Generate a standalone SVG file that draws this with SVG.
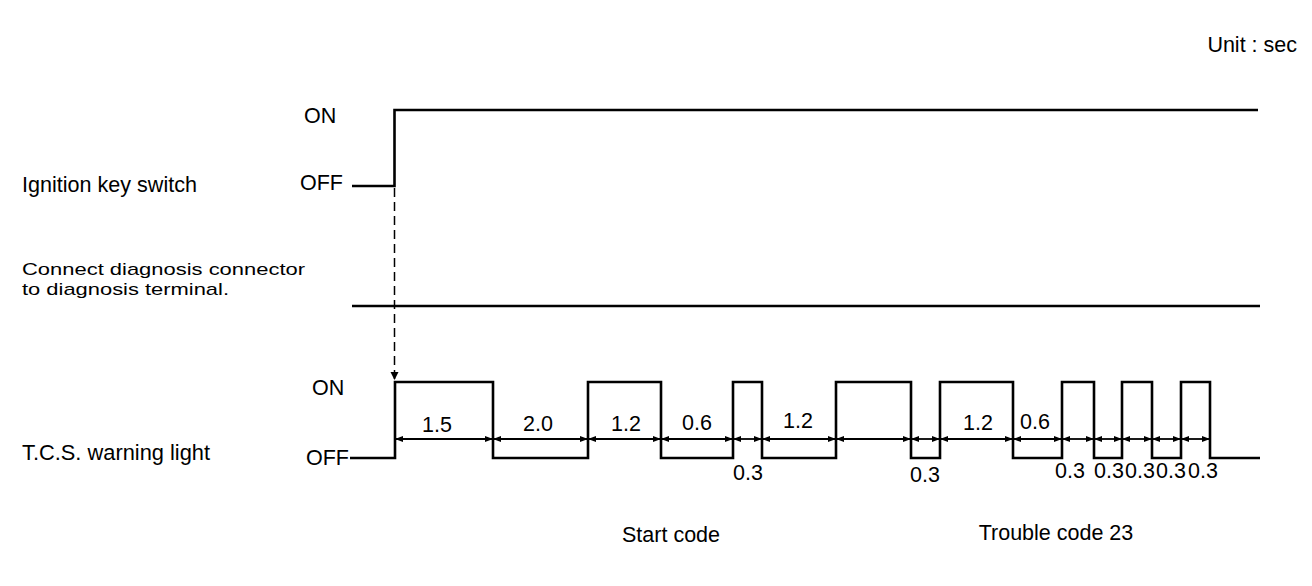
<svg xmlns="http://www.w3.org/2000/svg" width="1312" height="586" viewBox="0 0 1312 586">
<style>
text{font-family:"Liberation Sans",Arial,sans-serif;font-size:21.5px;fill:#000}
.c{text-anchor:middle}
.sm{font-size:17px}
.wave{fill:none;stroke:#000;stroke-width:2.6;stroke-linejoin:miter}
.dim{stroke:#000;stroke-width:1.8;marker-start:url(#ah);marker-end:url(#ah)}
.dash{fill:none;stroke:#000;stroke-width:1.5;stroke-dasharray:9 5}
</style>
<defs>
<marker id="ah" markerUnits="userSpaceOnUse" markerWidth="8" markerHeight="6" refX="8" refY="3" orient="auto-start-reverse">
<path d="M0,0 L8,3 L0,6 z" fill="#000"/>
</marker>
<marker id="down" markerUnits="userSpaceOnUse" markerWidth="8" markerHeight="10" refX="8" refY="4" orient="auto">
<path d="M0,0 L8,4 L0,8 z" fill="#000"/>
</marker>
</defs>
<rect width="1312" height="586" fill="#fff"/>
<text x="1297" y="52" style="text-anchor:end">Unit : sec</text>

<g id="ignition">
<text x="22" y="192" textLength="175" lengthAdjust="spacingAndGlyphs">Ignition key switch</text>
<text x="304" y="123">ON</text>
<text x="300" y="190">OFF</text>
<path class="wave" d="M352,186 H394.5 V110 H1258"/>
</g>

<g id="diagnosis">
<text class="sm" x="22" y="275" textLength="283" lengthAdjust="spacingAndGlyphs">Connect diagnosis connector</text>
<text class="sm" x="22" y="295" textLength="207" lengthAdjust="spacingAndGlyphs">to diagnosis terminal.</text>
<path class="wave" d="M352,306 H1260"/>
</g>

<g id="tcs">
<text x="22" y="460" textLength="188" lengthAdjust="spacingAndGlyphs">T.C.S. warning light</text>
<text x="312" y="395">ON</text>
<text x="306" y="465">OFF</text>
<path class="wave" d="M350,458 H395 V382 H493 V458 H588 V382 H661 V458 H733 V382 H762 V458 H836 V382 H911 V458 H940 V382 H1013 V458 H1062 V382 H1094 V458 H1122 V382 H1152 V458 H1181 V382 H1210 V458 H1260"/>
</g>

<g id="connectors">
<path class="dash" d="M394.5,188 V380" marker-end="url(#down)"/>
<line class="dim" x1="395" y1="439" x2="493" y2="439"/>
<line class="dim" x1="493" y1="439" x2="588" y2="439"/>
<line class="dim" x1="588" y1="439" x2="661" y2="439"/>
<line class="dim" x1="661" y1="439" x2="733" y2="439"/>
<line class="dim" x1="733" y1="439" x2="762" y2="439"/>
<line class="dim" x1="762" y1="439" x2="836" y2="439"/>
<line class="dim" x1="836" y1="439" x2="911" y2="439"/>
<line class="dim" x1="911" y1="439" x2="940" y2="439"/>
<line class="dim" x1="940" y1="439" x2="1013" y2="439"/>
<line class="dim" x1="1013" y1="439" x2="1062" y2="439"/>
<line class="dim" x1="1062" y1="439" x2="1094" y2="439"/>
<line class="dim" x1="1094" y1="439" x2="1122" y2="439"/>
<line class="dim" x1="1122" y1="439" x2="1152" y2="439"/>
<line class="dim" x1="1152" y1="439" x2="1181" y2="439"/>
<line class="dim" x1="1181" y1="439" x2="1210" y2="439"/>
</g>

<g id="labels">
<text class="c" x="437" y="432">1.5</text>
<text class="c" x="538" y="431">2.0</text>
<text class="c" x="626" y="431">1.2</text>
<text class="c" x="697" y="430">0.6</text>
<text class="c" x="798" y="428">1.2</text>
<text class="c" x="978" y="430">1.2</text>
<text class="c" x="1035" y="429">0.6</text>
<text class="c" x="748" y="480">0.3</text>
<text class="c" x="925" y="482">0.3</text>
<text class="c" x="1070" y="478">0.3</text>
<text class="c" x="1109" y="478">0.3</text>
<text class="c" x="1140" y="478">0.3</text>
<text class="c" x="1171" y="478">0.3</text>
<text class="c" x="1203" y="478">0.3</text>
<text class="c" x="671" y="542">Start code</text>
<text class="c" x="1056" y="540">Trouble code 23</text>
</g>
</svg>
